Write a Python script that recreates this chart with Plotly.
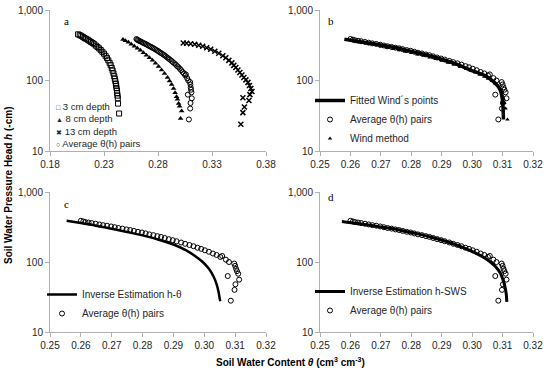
import plotly.graph_objects as go

# ---------------- data ----------------
# Panel a: individual depths (theta in cm3/cm3, h in -cm)
d3_theta = [0.2060, 0.2075, 0.2090, 0.2105, 0.2120, 0.2135, 0.2150, 0.2165, 0.2180, 0.2195,
            0.2210, 0.2225, 0.2240, 0.2255, 0.2270, 0.2285, 0.2300, 0.2315, 0.2328, 0.2340,
            0.2352, 0.2362, 0.2372, 0.2380, 0.2388, 0.2395, 0.2400, 0.2405, 0.2410, 0.2413,
            0.2416, 0.2420, 0.2422, 0.2425, 0.2428, 0.2430, 0.2440]
d3_h = [452, 440, 430, 415, 400, 390, 378, 365, 352, 340,
        327, 312, 298, 285, 270, 255, 240, 224, 208, 193,
        178, 165, 150, 138, 126, 115, 106, 98, 90, 84,
        78, 72, 66, 61, 56, 47, 34]

d8_theta = [0.2476, 0.2498, 0.2526, 0.2553, 0.2581, 0.2609, 0.2637, 0.2665, 0.2693, 0.2721,
            0.2749, 0.2777, 0.2805, 0.2833, 0.2860, 0.2888, 0.2907, 0.2926, 0.2944, 0.2958,
            0.2972, 0.2981, 0.2991, 0.3000, 0.3019, 0.3009]
d8_h = [381, 367, 349, 327, 306, 287, 268, 247, 228, 210,
        193, 175, 158, 141, 126, 110, 98, 88, 77, 67,
        59, 54, 47, 43, 37, 29]

d13_theta = [0.3034, 0.3065, 0.3102, 0.3140, 0.3177, 0.3214, 0.3251, 0.3288, 0.3326, 0.3363,
             0.3400, 0.3428, 0.3456, 0.3484, 0.3502, 0.3521, 0.3540, 0.3558, 0.3577, 0.3595,
             0.3614, 0.3633, 0.3647, 0.3660, 0.3670, 0.3651, 0.3586, 0.3642, 0.3600, 0.3586,
             0.3567]
d13_h = [341, 338, 332, 327, 316, 306, 291, 277, 260, 243,
         224, 210, 193, 178, 164, 153, 141, 130, 120, 110,
         102, 94, 85, 77, 70, 63, 57, 52, 42, 35,
         24]

# Average theta(h) pairs (shared by all panels)
avg_theta = [0.2600, 0.2608, 0.2615, 0.2625, 0.2635, 0.2648, 0.2660, 0.2672, 0.2685, 0.2698,
             0.2710, 0.2722, 0.2735, 0.2748, 0.2760, 0.2772, 0.2785, 0.2798, 0.2810, 0.2822,
             0.2835, 0.2848, 0.2860, 0.2872, 0.2885, 0.2898, 0.2910, 0.2925, 0.2938, 0.2952,
             0.2965, 0.2978, 0.2990, 0.3002, 0.3015, 0.3028, 0.3040, 0.3052, 0.3058, 0.3070,
             0.3080, 0.3076, 0.3097, 0.3100, 0.3103, 0.3106, 0.3110, 0.3113, 0.3101, 0.3098,
             0.3086]
avg_h = [388, 380, 372, 366, 360, 352, 344, 336, 330, 322,
         314, 306, 300, 292, 286, 278, 270, 264, 256, 248,
         242, 234, 228, 220, 212, 205, 198, 190, 182, 175,
         168, 160, 154, 147, 140, 132, 126, 118, 122, 108,
         100, 63, 95, 88, 80, 74, 68, 56, 48, 40,
         28]

# Panel b
fit_theta = [0.2580, 0.2620, 0.2660, 0.2700, 0.2740, 0.2780, 0.2820, 0.2860, 0.2900, 0.2940,
             0.2970, 0.2995, 0.3020, 0.3040, 0.3058, 0.3072, 0.3083, 0.3091, 0.3096, 0.3099,
             0.3101, 0.3102, 0.3103]
fit_h = [385, 362, 340, 318, 296, 272, 248, 224, 200, 176,
         156, 140, 128, 118, 106, 95, 85, 75, 65, 55,
         45, 37, 28]

wind_theta = [0.2590, 0.2605, 0.2620, 0.2640, 0.2660, 0.2680, 0.2700, 0.2720, 0.2740, 0.2760,
              0.2780, 0.2800, 0.2820, 0.2840, 0.2860, 0.2880, 0.2900, 0.2920, 0.2940, 0.2960,
              0.2980, 0.2995, 0.3010, 0.3025, 0.3040, 0.3052, 0.3065, 0.3075, 0.3085, 0.3092,
              0.3097, 0.3100, 0.3103, 0.3106, 0.3110, 0.3116]
wind_h = [380, 370, 360, 345, 330, 318, 304, 291, 280, 268,
          256, 246, 234, 224, 212, 201, 190, 178, 167, 156,
          146, 138, 130, 121, 113, 106, 98, 91, 84, 76,
          68, 61, 55, 48, 40, 28]

# Panel c
inv_theta = [0.2554, 0.2600, 0.2650, 0.2700, 0.2750, 0.2800, 0.2850, 0.2900, 0.2940, 0.2970,
             0.2995, 0.3015, 0.3030, 0.3040, 0.3046, 0.3050, 0.3052]
inv_h = [389, 360, 330, 298, 268, 240, 210, 178, 148, 122,
         100, 80, 62, 48, 38, 30, 27.5]

# Panel d
sws_theta = [0.2572, 0.2625, 0.2675, 0.2725, 0.2775, 0.2825, 0.2875, 0.2925, 0.2975, 0.3010,
             0.3040, 0.3060, 0.3078, 0.3092, 0.3102, 0.3108, 0.3112, 0.3114]
sws_h = [380, 355, 330, 305, 278, 250, 220, 190, 158, 135,
         115, 100, 85, 70, 55, 44, 35, 27]

xticks_a = [0.18, 0.23, 0.28, 0.33, 0.38]
xticks_b = [0.25, 0.26, 0.27, 0.28, 0.29, 0.30, 0.31, 0.32]
yticks = [10, 100, 1000]
yticktext = ["10", "100", "1,000"]

# ---------------- figure ----------------
W, H = 550, 373
def PX(x):
    return x / W
def PY(y):
    return 1 - y / H

FONT = "Liberation Sans, Arial, sans-serif"
SERIF = "Liberation Serif, Times New Roman, serif"
TXT = "#262626"
AX = "#b0b0b0"

fig = go.Figure()

# Panel a
fig.add_trace(go.Scatter(x=d3_theta, y=d3_h, mode="markers", name="3 cm depth",
                         marker=dict(symbol="square-open", size=5, color="black", line=dict(width=1)),
                         xaxis="x", yaxis="y", showlegend=False))
fig.add_trace(go.Scatter(x=d8_theta, y=d8_h, mode="markers", name="8 cm depth",
                         marker=dict(symbol="triangle-up", size=5, color="black"),
                         xaxis="x", yaxis="y", showlegend=False))
fig.add_trace(go.Scatter(x=d13_theta, y=d13_h, mode="markers", name="13 cm depth",
                         marker=dict(symbol="x-thin", size=5, color="black",
                                     line=dict(width=1.5, color="black")),
                         xaxis="x", yaxis="y", showlegend=False))
fig.add_trace(go.Scatter(x=avg_theta, y=avg_h, mode="markers", name="Average θ(h) pairs",
                         marker=dict(symbol="circle-open", size=5, color="black", line=dict(width=1)),
                         xaxis="x", yaxis="y", showlegend=False))

# Panel b
fig.add_trace(go.Scatter(x=fit_theta, y=fit_h, mode="lines", name="Fitted Wind´s points",
                         line=dict(color="black", width=3.5, shape="spline"),
                         xaxis="x2", yaxis="y2", legend="legend2"))
fig.add_trace(go.Scatter(x=avg_theta, y=avg_h, mode="markers", name="Average θ(h) pairs",
                         marker=dict(symbol="circle-open", size=5, color="black", line=dict(width=1)),
                         xaxis="x2", yaxis="y2", legend="legend2"))
fig.add_trace(go.Scatter(x=wind_theta, y=wind_h, mode="markers", name="Wind method",
                         marker=dict(symbol="triangle-up", size=4, color="black"),
                         xaxis="x2", yaxis="y2", legend="legend2"))

# Panel c
fig.add_trace(go.Scatter(x=inv_theta, y=inv_h, mode="lines", name="Inverse Estimation h-θ",
                         line=dict(color="black", width=2.5, shape="spline"),
                         xaxis="x3", yaxis="y3", legend="legend3"))
fig.add_trace(go.Scatter(x=avg_theta, y=avg_h, mode="markers", name="Average θ(h) pairs",
                         marker=dict(symbol="circle-open", size=5, color="black", line=dict(width=1)),
                         xaxis="x3", yaxis="y3", legend="legend3"))

# Panel d
fig.add_trace(go.Scatter(x=sws_theta, y=sws_h, mode="lines", name="Inverse Estimation h-SWS",
                         line=dict(color="black", width=3, shape="spline"),
                         xaxis="x4", yaxis="y4", legend="legend4"))
fig.add_trace(go.Scatter(x=avg_theta, y=avg_h, mode="markers", name="Average θ(h) pairs",
                         marker=dict(symbol="circle-open", size=5, color="black", line=dict(width=1)),
                         xaxis="x4", yaxis="y4", legend="legend4"))

xdomL = [PX(50), PX(266)]
xdomR = [PX(320), PX(533)]
ydomT = [PY(151), PY(10)]
ydomB = [PY(332), PY(192)]

def xax(dom, anchor, rng, ticks, fmt):
    return dict(domain=dom, anchor=anchor, range=rng, tickvals=ticks,
                ticktext=[fmt.format(t) for t in ticks], automargin=False,
                showline=True, linecolor=AX, linewidth=1, ticks="outside", ticklen=4,
                tickcolor=AX, showgrid=False, zeroline=False,
                tickfont=dict(family=FONT, size=10, color=TXT))

def yax(dom, anchor):
    return dict(domain=dom, anchor=anchor, type="log", range=[1, 3], tickvals=yticks,
                ticktext=yticktext, showline=True, linecolor=AX, linewidth=1, automargin=False,
                ticks="outside", ticklen=4, tickcolor=AX, showgrid=False, zeroline=False,
                tickfont=dict(family=FONT, size=10, color=TXT))

leg_common = dict(bgcolor="rgba(0,0,0,0)", font=dict(family=FONT, size=10, color=TXT),
                  xanchor="left", yanchor="top", tracegroupgap=0, itemwidth=30)

annotations = []
# panel letters
for letter, (lx, ly) in zip("abcd", [(66, 21), (331, 21), (66, 204), (331, 197)]):
    annotations.append(dict(text=letter, x=PX(lx), y=PY(ly), xref="paper", yref="paper",
                            xanchor="center", yanchor="middle", showarrow=False,
                            font=dict(family=SERIF, size=11, color="black")))
# panel a legend (compact rows, as one text block)
sym = '<span style="font-size:7px">{}</span> '
leg_a_text = "<br>".join([
    sym.format("□") + "3 cm depth",
    sym.format("▲") + "8 cm depth",
    sym.format("✖") + "13 cm depth",
    sym.format("○") + "Average θ(h) pairs",
])
annotations.append(dict(text=leg_a_text, x=PX(54), y=PY(99), xref="paper", yref="paper",
                        xanchor="left", yanchor="top", align="left", showarrow=False,
                        font=dict(family=FONT, size=9.5, color=TXT)))
# axis titles
annotations.append(dict(text="<b>Soil Water Pressure Head <i>h</i> (-cm)</b>", x=PX(8), y=PY(186),
                        xref="paper", yref="paper", xanchor="center", yanchor="middle",
                        showarrow=False, textangle=-90,
                        font=dict(family=FONT, size=10, color="black")))
annotations.append(dict(text="<b>Soil Water Content <i>θ</i> (cm<sup>3</sup> cm<sup>-3</sup>)</b>",
                        x=PX(290), y=PY(362), xref="paper", yref="paper",
                        xanchor="center", yanchor="middle", showarrow=False,
                        font=dict(family=FONT, size=10, color="black")))

fig.update_layout(
    width=W, height=H, margin=dict(l=0, r=0, t=0, b=0, autoexpand=False),
    paper_bgcolor="white", plot_bgcolor="white",
    xaxis=xax(xdomL, "y", [0.18, 0.38], xticks_a, "{:.2f}"),
    yaxis=yax(ydomT, "x"),
    xaxis2=xax(xdomR, "y2", [0.25, 0.32], xticks_b, "{:.2f}"),
    yaxis2=yax(ydomT, "x2"),
    xaxis3=xax(xdomL, "y3", [0.25, 0.32], xticks_b, "{:.2f}"),
    yaxis3=yax(ydomB, "x3"),
    xaxis4=xax(xdomR, "y4", [0.25, 0.32], xticks_b, "{:.2f}"),
    yaxis4=yax(ydomB, "x4"),
    legend2=dict(x=PX(310), y=PY(86), **leg_common),
    legend3=dict(x=PX(42), y=PY(280), **leg_common),
    legend4=dict(x=PX(310), y=PY(277), **leg_common),
    showlegend=True,
    annotations=annotations,
)

fig.write_html("out.html", config={"displayModeBar": False},
               post_script="document.body.style.margin='0px';")
